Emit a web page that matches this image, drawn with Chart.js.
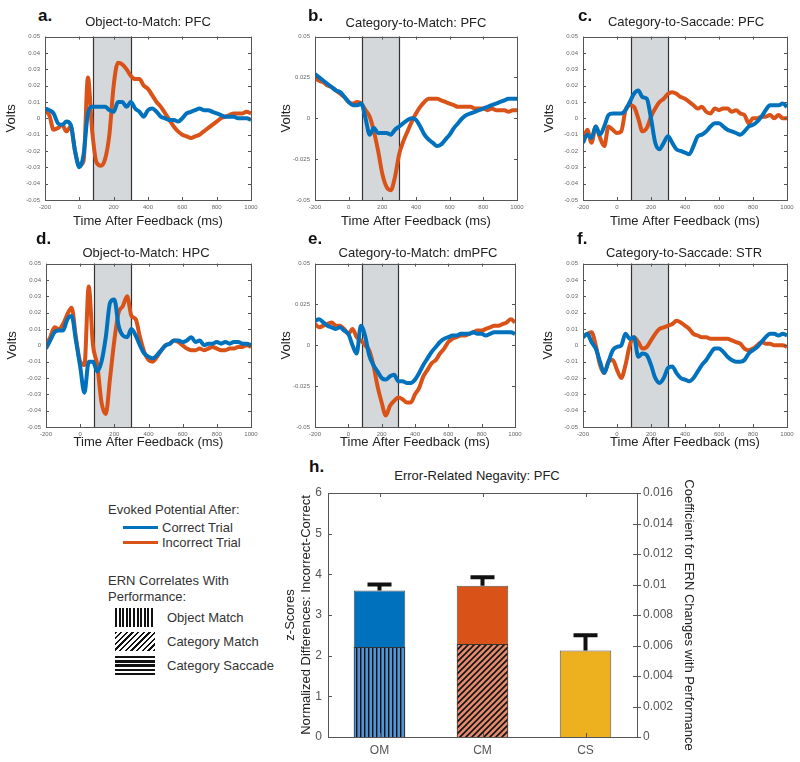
<!DOCTYPE html>
<html>
<head>
<meta charset="utf-8">
<script src="https://cdn.jsdelivr.net/npm/chart.js@4.4.1/dist/chart.umd.min.js"></script>
<style>
  body { margin: 0; background: #fff; font-family: 'Liberation Sans', Arial, sans-serif; color: #222; }
  #fig { position: relative; width: 800px; height: 762px; overflow: hidden; }
  canvas { position: absolute; }
  .lbl { position: absolute; white-space: nowrap; line-height: 1; }
  .letter { font-weight: bold; font-size: 17px; color: #111; }
  .ptitle { font-size: 13px; transform: translate(-50%, -50%); }
  .leg { font-size: 13px; color: #333; }
  .swatch { position: absolute; height: 3px; }
  .hatch { position: absolute; width: 40px; height: 19px; }
</style>
</head>
<body>
<div id="fig"></div>
<script>
// ---- data ----
const timeMs = [-200,-175,-150,-125,-100,-75,-50,-25,0,25,50,75,100,125,150,175,200,225,250,275,300,325,350,375,
  400,425,450,475,500,525,550,575,600,625,650,675,700,725,750,775,800,825,850,875,900,925,950,975,1000];

const objPfcCorrect = [0.006,0.005,0.003,-0.003,-0.004,-0.002,-0.004,-0.02, -0.03,-0.022,0.003,0.007,0.007,0.007,0.007,0.005,
  0.004,0.01,0.01,0.007,0.01,0.006,0.004,0.001, 0.005,0.006,0.004,0.001,0,-0.001,-0.001,-0.002,
  0,0.003,0.004,0.005,0.006,0.005,0.005,0.004, 0.003,0.002,0.001,0.001,0.001,0,0,0, -0.001];
const objPfcIncorrect = [0.004,0.002,-0.007,-0.006,-0.004,-0.008,-0.005,-0.02, -0.029,-0.026,0.025,-0.008,-0.027,-0.029,-0.025,-0.01,
  0.02,0.034,0.033,0.03,0.026,0.024,0.024,0.02, 0.018,0.014,0.01,0.007,0.003,-0.001,-0.005,-0.008,
  -0.01,-0.011,-0.012,-0.011,-0.01,-0.008,-0.006,-0.004, -0.002,0,0.001,0.002,0.003,0.003,0.003,0.004, 0.003];

const catPfcCorrect = [0.027,0.025,0.023,0.021,0.019,0.017,0.016,0.013, 0.01,0.008,0.008,0.009,0.0,-0.01,-0.006,-0.009,
  -0.009,-0.009,-0.01,-0.007,-0.005,-0.003,-0.001,0, -0.001,-0.005,-0.01,-0.013,-0.015,-0.017,-0.016,-0.013,
  -0.01,-0.006,-0.003,0,0.002,0.003,0.004,0.005, 0.006,0.007,0.008,0.009,0.01,0.011,0.012,0.012, 0.012];
const catPfcIncorrect = [0.025,0.023,0.022,0.02,0.019,0.017,0.015,0.013, 0.01,0.009,0.01,0.009,0.005,0.001,-0.008,-0.02,
  -0.034,-0.042,-0.044,-0.036,-0.022,-0.014,-0.008,-0.002, 0.003,0.007,0.01,0.012,0.012,0.012,0.011,0.01,
  0.009,0.008,0.007,0.007,0.007,0.007,0.006,0.006, 0.006,0.005,0.006,0.005,0.005,0.005,0.004,0.005, 0.005];

const sacPfcCorrect = [-0.015,-0.01,-0.012,-0.005,-0.01,-0.005,0.002,0.003, 0.003,0.003,0.005,0.01,0.015,0.017,0.013,0.012,
  0.0,-0.015,-0.019,-0.015,-0.011,-0.015,-0.019,-0.02, -0.021,-0.022,-0.017,-0.011,-0.01,-0.008,-0.005,-0.003,
  -0.003,-0.005,-0.007,-0.008,-0.009,-0.01,-0.008,-0.005, -0.004,-0.002,0.001,0.005,0.008,0.008,0.008,0.009, 0.007];
const sacPfcIncorrect = [-0.014,-0.007,-0.015,-0.005,-0.012,-0.017,-0.005,-0.007, -0.009,-0.008,0.005,0.008,0.007,0.0,-0.008,-0.006,
  0.001,0.006,0.01,0.012,0.015,0.016,0.015,0.013, 0.012,0.01,0.008,0.006,0.007,0.004,0.003,0.006,
  0.005,0.006,0.006,0.004,0.005,0.003,0.002,-0.003, 0.0,0.0,0.001,0.001,0.002,0.0,0.002,0.0, 0.0];

const objHpcCorrect = [-0.002,0.003,0.008,0.009,0.009,0.016,0.018,0.003, -0.013,-0.029,-0.01,-0.01,-0.016,-0.01,0.005,0.026,
  0.028,0.012,0.006,0.005,0.01,0.006,0.0,-0.005, -0.007,-0.008,-0.006,-0.003,0.0,0.001,0.003,0.003,
  0.002,0.003,0.005,0.002,0.003,0.0,0.001,0.001, 0.002,0.001,0.002,0.001,0.002,0.002,0.001,0.001, 0.0];
const objHpcIncorrect = [0.0,0.005,0.011,0.01,0.013,0.019,0.023,0.005, -0.01,-0.012,0.036,0.0,-0.012,-0.035,-0.042,-0.02,
  0.003,0.02,0.024,0.03,0.018,0.016,0.005,-0.004, -0.009,-0.01,-0.007,-0.003,0.0,0.001,0.003,0.002,
  0.0,-0.002,-0.003,-0.003,-0.002,-0.003,-0.002,-0.001, -0.002,-0.003,-0.003,-0.002,-0.002,-0.001,-0.001,0.0, -0.001];

const catDmpfcCorrect = [0.015,0.016,0.014,0.012,0.011,0.01,0.011,0.009, 0.007,0.0,-0.005,0.012,0.006,-0.006,-0.012,-0.016,
  -0.02,-0.021,-0.019,-0.018,-0.022,-0.022,-0.023,-0.023, -0.021,-0.017,-0.012,-0.008,-0.004,-0.001,0.002,0.004,
  0.005,0.006,0.006,0.007,0.007,0.007,0.008,0.007, 0.007,0.006,0.007,0.008,0.008,0.008,0.008,0.008, 0.007];
const catDmpfcIncorrect = [0.013,0.011,0.012,0.013,0.014,0.012,0.012,0.01, 0.007,0.01,0.005,0.003,0.0,-0.003,-0.012,-0.025,
  -0.035,-0.043,-0.037,-0.034,-0.032,-0.033,-0.035,-0.035, -0.03,-0.026,-0.019,-0.015,-0.011,-0.009,-0.005,-0.002,
  0.002,0.004,0.005,0.006,0.006,0.007,0.008,0.009, 0.009,0.01,0.011,0.012,0.012,0.013,0.014,0.016, 0.014];

const sacStrCorrect = [0.005,0.007,0.002,-0.002,-0.01,-0.017,-0.01,-0.003, -0.001,0.0,0.007,0.004,0.005,-0.007,-0.005,-0.006,
  -0.012,-0.02,-0.023,-0.02,-0.014,-0.013,-0.017,-0.02, -0.021,-0.022,-0.02,-0.016,-0.012,-0.009,-0.005,-0.002,
  -0.002,-0.004,-0.007,-0.009,-0.01,-0.01,-0.009,-0.005, -0.003,-0.001,0.002,0.005,0.007,0.007,0.006,0.007, 0.006];
const sacStrIncorrect = [0.005,0.007,0.008,0.0,-0.012,-0.017,-0.01,-0.009, -0.015,-0.02,-0.012,0.0,0.005,0.002,-0.002,-0.001,
  0.003,0.007,0.01,0.011,0.012,0.013,0.015,0.014, 0.012,0.01,0.007,0.006,0.005,0.005,0.004,0.004,
  0.004,0.004,0.004,0.003,0.002,0.001,-0.002,-0.003, -0.002,0.0,0.002,0.001,0.001,0.0,0.0,0.0, -0.001];

const ernWindow = [80, 300];           // shaded window (ms)
const seriesLabels = ['Correct Trial', 'Incorrect Trial'];

// panel h
const condLabels = ['OM', 'CM', 'CS'];
const zScores = [3.6, 3.72, 2.13];
const zScoreErrTop = [3.75, 3.93, 2.5];
const ernCoef = [0.0059, 0.0061, 0];
const patternLabels = ['Object Match', 'Category Match', 'Category Saccade'];

// ---- style ----
const BLUE = '#0072BD', ORANGE = '#D95319', YELLOW = '#EDB120';
Chart.defaults.font.family = "'Liberation Sans', Arial, sans-serif";
const fig = document.getElementById('fig');

function addLabel(text, cls, left, top) {
  const d = document.createElement('div');
  d.className = 'lbl ' + cls;
  d.textContent = text;
  d.style.left = left + 'px';
  d.style.top = top + 'px';
  fig.appendChild(d);
  return d;
}
function addCanvas(left, top, w, h) {
  const c = document.createElement('canvas');
  c.width = w; c.height = h;
  c.style.left = left + 'px'; c.style.top = top + 'px';
  c.style.width = w + 'px'; c.style.height = h + 'px';
  fig.appendChild(c);
  return c;
}
const fmt = v => String(+Number(v).toFixed(3));

// box around the axes with inward ticks, MATLAB style
const boxPlugin = {
  id: 'box',
  afterDraw(chart, args, opts) {
    const { ctx, chartArea: a, scales } = chart;
    const L = opts.tick || 3;
    ctx.save();
    ctx.strokeStyle = '#555';
    ctx.lineWidth = 1;
    ctx.strokeRect(Math.round(a.left) + 0.5, Math.round(a.top) + 0.5, Math.round(a.right - a.left), Math.round(a.bottom - a.top));
    ctx.beginPath();
    Object.values(scales).forEach(s => {
      s.ticks.forEach((t, i) => {
        const p = Math.round(s.getPixelForTick(i)) + 0.5;
        if (s.isHorizontal()) {
          ctx.moveTo(p, a.bottom); ctx.lineTo(p, a.bottom - L);
          ctx.moveTo(p, a.top); ctx.lineTo(p, a.top + L);
        } else if (s.position === 'left') {
          ctx.moveTo(a.left, p); ctx.lineTo(a.left + L, p);
          if (opts.both) { ctx.moveTo(a.right, p); ctx.lineTo(a.right - L, p); }
        } else {
          ctx.moveTo(a.right, p); ctx.lineTo(a.right - L, p);
          ctx.moveTo(a.right, p); ctx.lineTo(a.right + 4, p);
        }
      });
    });
    ctx.stroke();
    ctx.restore();
  }
};

// grey feedback window
const shadePlugin = {
  id: 'shade',
  beforeDatasetsDraw(chart) {
    const { ctx, chartArea: a, scales: { x } } = chart;
    const x0 = Math.round(x.getPixelForValue(ernWindow[0])) + 0.5;
    const x1 = Math.round(x.getPixelForValue(ernWindow[1])) + 0.5;
    ctx.save();
    ctx.fillStyle = '#d5d8db';
    ctx.fillRect(x0, a.top, x1 - x0, a.bottom - a.top);
    ctx.strokeStyle = '#333';
    ctx.lineWidth = 1.2;
    ctx.beginPath();
    ctx.moveTo(x0, a.top); ctx.lineTo(x0, a.bottom);
    ctx.moveTo(x1, a.top); ctx.lineTo(x1, a.bottom);
    ctx.stroke();
    ctx.restore();
  }
};

const panels = [
  { letter: 'a.', title: 'Object-to-Match: PFC', c: objPfcCorrect, i: objPfcIncorrect, yStep: 0.01,
    box: [0, 28, 265, 202], yW: 45, padR: 14, yTitlePad: 4, xTitlePad: 1, letterPos: [38, 7], titlePos: [148, 21] },
  { letter: 'b.', title: 'Category-to-Match: PFC', c: catPfcCorrect, i: catPfcIncorrect, yStep: 0.025,
    box: [265, 28, 265, 202], yW: 50, padR: 13, yTitlePad: 14, xTitlePad: 1, letterPos: [308, 7], titlePos: [416, 22] },
  { letter: 'c.', title: 'Category-to-Saccade: PFC', c: sacPfcCorrect, i: sacPfcIncorrect, yStep: 0.01,
    box: [530, 28, 270, 202], yW: 53, padR: 13, yTitlePad: 12, xTitlePad: 1, letterPos: [578, 7], titlePos: [686, 21] },
  { letter: 'd.', title: 'Object-to-Match: HPC', c: objHpcCorrect, i: objHpcIncorrect, yStep: 0.01,
    box: [0, 255, 265, 202], yW: 46, padR: 14, yTitlePad: 5, xTitlePad: 7, letterPos: [36, 230], titlePos: [146, 252] },
  { letter: 'e.', title: 'Category-to-Match: dmPFC', c: catDmpfcCorrect, i: catDmpfcIncorrect, yStep: 0.025,
    box: [265, 255, 265, 202], yW: 50, padR: 15, yTitlePad: 14, xTitlePad: 7, letterPos: [308, 230], titlePos: [418, 252] },
  { letter: 'f.', title: 'Category-to-Saccade: STR', c: sacStrCorrect, i: sacStrIncorrect, yStep: 0.01,
    box: [530, 255, 270, 202], yW: 53, padR: 13, yTitlePad: 11, xTitlePad: 7, letterPos: [577, 230], titlePos: [684, 252] }
];

const tinyTicks = { font: { size: 6 }, color: '#666' };
const noGrid = { display: false, drawTicks: false };

panels.forEach(p => {
  const [l, t, w, h] = p.box;
  const cv = addCanvas(l, t, w, h);
  addLabel(p.letter, 'letter', p.letterPos[0], p.letterPos[1]);
  addLabel(p.title, 'ptitle', p.titlePos[0], p.titlePos[1]);
  new Chart(cv, {
    type: 'line',
    data: {
      datasets: [
        { label: seriesLabels[0], data: timeMs.map((x, k) => ({ x, y: p.c[k] })), borderColor: BLUE },
        { label: seriesLabels[1], data: timeMs.map((x, k) => ({ x, y: p.i[k] })), borderColor: ORANGE }
      ]
    },
    options: {
      responsive: false, animation: false,
      datasets: { line: { borderWidth: 4, pointRadius: 0, cubicInterpolationMode: 'monotone' } },
      layout: { padding: { top: 8, right: p.padR, left: 0, bottom: 0 } },
      plugins: { legend: { display: false }, tooltip: { enabled: false }, box: { tick: 3, both: true } },
      scales: {
        x: {
          type: 'linear', min: -200, max: 1000,
          ticks: { ...tinyTicks, stepSize: 200, padding: 4, maxRotation: 0, callback: v => String(v) },
          grid: noGrid, border: { display: false },
          title: { display: true, text: 'Time After Feedback (ms)', font: { size: 13 }, color: '#222', padding: { top: 0, bottom: p.xTitlePad } },
          afterFit: s => { s.height = 30; }
        },
        y: {
          min: -0.05, max: 0.05,
          ticks: { ...tinyTicks, stepSize: p.yStep, padding: 5, callback: v => fmt(v) },
          grid: noGrid, border: { display: false },
          title: { display: true, text: 'Volts', font: { size: 13 }, color: '#222', padding: { top: p.yTitlePad, bottom: 0 } },
          afterFit: s => { s.width = p.yW; }
        }
      }
    },
    plugins: [shadePlugin, boxPlugin]
  });
});

// ---- legend (left of panel h) ----
addLabel('Evoked Potential After:', 'leg', 108, 503);
[BLUE, ORANGE].forEach((col, k) => {
  const s = document.createElement('div');
  s.className = 'swatch';
  s.style.cssText += `left:123px;top:${526 + k * 15}px;width:35px;background:${col}`;
  fig.appendChild(s);
  addLabel(seriesLabels[k], 'leg', 162, 521 + k * 15);
});
addLabel('ERN Correlates With', 'leg', 108, 574);
addLabel('Performance:', 'leg', 108, 590);
const hatchCss = [
  'repeating-linear-gradient(90deg, #111 0 2px, transparent 2px 3.6px)',
  'repeating-linear-gradient(135deg, #111 0 1.5px, transparent 1.5px 4px)',
  'repeating-linear-gradient(180deg, #111 0 2.4px, transparent 2.4px 4.2px)'
];
patternLabels.forEach((txt, k) => {
  const d = document.createElement('div');
  d.className = 'hatch';
  d.style.left = '115px';
  d.style.top = (608 + k * 24) + 'px';
  d.style.background = hatchCss[k];
  fig.appendChild(d);
  addLabel(txt, 'leg', 167, 611 + k * 24);
});

// ---- panel h ----
addLabel('h.', 'letter', 309, 458);
addLabel('Error-Related Negavity: PFC', 'ptitle', 477, 475);

function makePattern(base, kind) {
  const c = document.createElement('canvas');
  const n = kind === 'v' ? 4 : 6;
  c.width = n; c.height = n;
  const g = c.getContext('2d');
  g.fillStyle = base; g.fillRect(0, 0, n, n);
  g.strokeStyle = '#111'; g.fillStyle = '#111';
  if (kind === 'v') {
    g.fillRect(0, 0, 1.4, n);
  } else {
    g.lineWidth = 1.6;
    g.beginPath();
    g.moveTo(0, n); g.lineTo(n, 0);
    g.moveTo(-n / 2, n / 2); g.lineTo(n / 2, -n / 2);
    g.moveTo(n / 2, n * 1.5); g.lineTo(n * 1.5, n / 2);
    g.stroke();
  }
  return g.createPattern(c, 'repeat');
}

const errorBarPlugin = {
  id: 'errbars',
  afterDatasetsDraw(chart) {
    const { ctx, scales: { y } } = chart;
    const meta = chart.getDatasetMeta(1);
    ctx.save();
    ctx.strokeStyle = '#111';
    ctx.lineWidth = 4;
    ctx.beginPath();
    meta.data.forEach((bar, k) => {
      const y0 = y.getPixelForValue(zScores[k]);
      const y1 = y.getPixelForValue(zScoreErrTop[k]);
      ctx.moveTo(bar.x, y0); ctx.lineTo(bar.x, y1);
      ctx.moveTo(bar.x - 12, y1); ctx.lineTo(bar.x + 12, y1);
    });
    ctx.stroke();
    ctx.restore();
  }
};

const hCv = addCanvas(280, 455, 420, 307);
const hTicks = { font: { size: 12 }, color: '#555' };
new Chart(hCv, {
  type: 'bar',
  data: {
    labels: condLabels,
    datasets: [
      { label: 'Coefficient', data: ernCoef, yAxisID: 'y1',
        backgroundColor: [makePattern('#4f94d4', 'v'), makePattern('#e58b6c', 'd'), 'rgba(0,0,0,0)'],
        borderColor: '#333', borderWidth: 1 },
      { label: 'z-Score', data: zScores, yAxisID: 'y',
        backgroundColor: [BLUE, ORANGE, YELLOW], borderColor: '#555', borderWidth: 1 }
    ]
  },
  options: {
    responsive: false, animation: false,
    datasets: { bar: { barPercentage: 0.5, categoryPercentage: 1, grouped: false } },
    layout: { padding: { top: 38, left: 0, right: 0, bottom: 0 } },
    plugins: { legend: { display: false }, tooltip: { enabled: false }, box: { tick: 4 } },
    scales: {
      x: {
        ticks: { ...hTicks, padding: 6 }, grid: noGrid, border: { display: false },
        afterFit: s => { s.height = 25; }
      },
      y: {
        position: 'left', min: 0, max: 6,
        ticks: { ...hTicks, stepSize: 1, padding: 6 }, grid: noGrid, border: { display: false },
        title: { display: true, text: ['z-Scores', 'Normalized Differences: Incorrect-Correct'], font: { size: 13 }, color: '#222', padding: { top: 3, bottom: 0 } },
        afterFit: s => { s.width = 48; }
      },
      y1: {
        position: 'right', min: 0, max: 0.016,
        ticks: { ...hTicks, stepSize: 0.002, padding: 6, callback: v => fmt(v) }, grid: noGrid, border: { display: false },
        title: { display: true, text: 'Coefficient for ERN Changes with Performance', font: { size: 13 }, color: '#222', padding: { top: 4, bottom: 0 } },
        afterFit: s => { s.width = 63; }
      }
    }
  },
  plugins: [boxPlugin, errorBarPlugin]
});
</script>
</body>
</html>
